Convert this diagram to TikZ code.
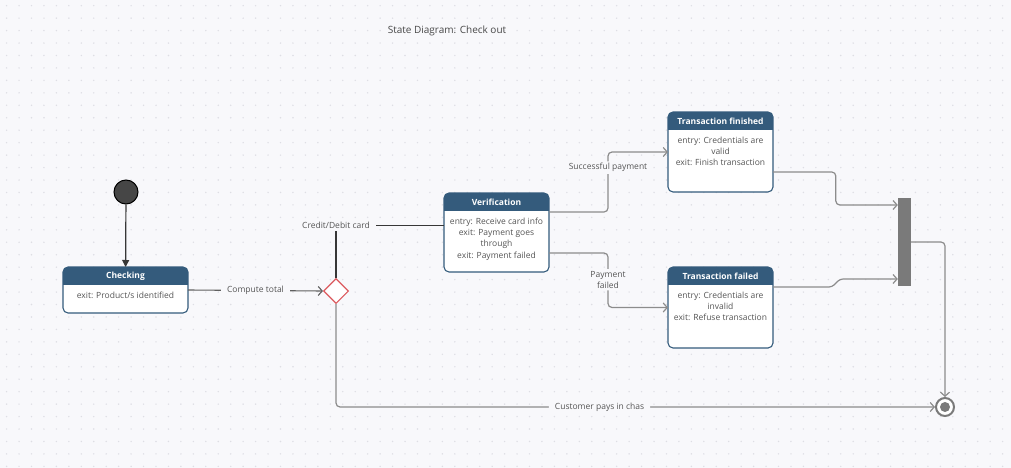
\documentclass[tikz,border=0pt]{standalone}
\usepackage{fontspec}
\setmainfont{Open Sans}
\usetikzlibrary{arrows.meta,shapes.geometric}

\definecolor{bgcol}{RGB}{248,248,251}
\definecolor{dotcol}{RGB}{222,222,228}
\definecolor{hdr}{RGB}{52,91,124}
\definecolor{linecol}{RGB}{140,140,140}
\definecolor{darkcol}{RGB}{55,55,55}
\definecolor{txtcol}{RGB}{85,85,85}
\definecolor{dred}{RGB}{220,90,95}
\definecolor{barcol}{RGB}{122,122,122}
\definecolor{initcol}{RGB}{70,70,70}

\newcommand{\stbox}[7]{% name, x, y, w, h, title, body
  \node[stbody, minimum width=#4, minimum height=#5, anchor=north west] (#1) at (#2,#3) {};
  \begin{scope}
    \clip[rounded corners=5pt] (#1.north west) rectangle (#1.south east);
    \fill[hdr] (#1.north west) rectangle ([yshift=-18pt]#1.north east);
  \end{scope}
  \draw[hdr, line width=1.1pt, rounded corners=5pt] (#1.north west) rectangle (#1.south east);
  \node[hdrtext] (#1-t) at ([yshift=-9pt]#1.north) {#6};
  \node[bodytext, anchor=north] (#1-b) at ([yshift=-24.5pt]#1.north) {#7};
}

\begin{document}
\begin{tikzpicture}[x=1pt, y=-1pt,
  stbody/.style={rectangle, fill=white, inner sep=0, outer sep=0},
  hdrtext/.style={text=white, font=\fontsize{8.5}{10}\selectfont\bfseries},
  bodytext/.style={text=txtcol, align=center, inner sep=0, font=\fontsize{8.5}{11.3}\selectfont},
  lbl/.style={fill=bgcol, text=txtcol, inner xsep=6pt, inner ysep=2pt, align=center, font=\fontsize{8.5}{11}\selectfont},
  flow/.style={draw=linecol, line width=1.2pt, rounded corners=4pt, -{Straight Barb[length=4pt,width=9pt]}},
  flowd/.style={draw=darkcol!80, line width=1.1pt, -{Straight Barb[length=4pt,width=9pt]}},
  dline/.style={draw=darkcol, line width=1.2pt}]

\def\width{1011}
\def\height{468}

% BACKGROUND
\fill[bgcol] (0,0) rectangle (\width,\height);
\useasboundingbox (0,0) rectangle (\width,\height);
\foreach \i in {0,...,80}
  \foreach \j in {0,...,37}
    \fill[dotcol] (6.6+12.45*\i,5.7+12.45*\j) circle (0.8pt);

% TITLE
\node[text=txtcol!85!black, font=\fontsize{10}{12}\selectfont] (title) at (447,31) {State Diagram: Check out};

% STATES
\node[circle, draw=black, line width=1pt, fill=initcol, minimum size=24, inner sep=0] (init) at (126,192) {};

\stbox{check}{63}{267}{125}{46}{Checking}{exit: Product/s identified}
\stbox{verif}{444}{193}{105}{79}{Verification}{entry: Receive card info\\exit: Payment goes\\through\\exit: Payment failed}
\stbox{tfin}{668}{112}{105}{80}{Transaction finished}{entry: Credentials are\\valid\\exit: Finish transaction}
\stbox{tfail}{668}{267}{105}{81}{Transaction failed}{entry: Credentials are\\invalid\\exit: Refuse transaction}

\node[diamond, draw=dred, line width=1.1pt, fill=white, minimum width=25, minimum height=25, inner sep=0] (dec) at (336,291) {};
\node[fill=barcol, minimum width=13, minimum height=88, inner sep=0] (bar) at (904.5,242) {};
\node[circle, draw=barcol, line width=2pt, fill=white, minimum size=18, inner sep=0] (fin) at (945,407) {};
\fill[barcol] (fin.center) circle (5pt);

% TRANSITIONS
\draw[darkcol, line width=1.2pt, -{Triangle[length=7pt,width=7pt]}] (init) -- (check);
\draw[flowd] (check.east) -- node[lbl] {Compute total} (dec.west);
\draw[dline] (dec.north) |- node[lbl] {Credit/Debit card} ([yshift=7pt]verif.west);
\draw[flow] ([yshift=20.5pt]verif.east) -| node[lbl, pos=0.87] {Successful payment} ([xshift=-60pt]tfin.west) -- (tfin.west);
\draw[flow] ([yshift=-20.5pt]verif.east) -| node[lbl, pos=0.745] {Payment\\failed} ([xshift=-60pt]tfail.west) -- (tfail.west);
\draw[flow] ([yshift=-20pt]tfin.east) -| ([xshift=-62pt,yshift=37pt]bar.west) -- ([yshift=37pt]bar.west);
\draw[flow, rounded corners=3pt] ([yshift=20.5pt]tfail.east) -- ++(59,0) -- ++(8,-8) -- ([yshift=-37pt]bar.west);
\draw[flow] (bar.east) -| (fin.north);
\draw[flow] (dec.south) |- node[lbl, pos=0.72] {Customer pays in chas} (fin.west);

\end{tikzpicture}
\end{document}
